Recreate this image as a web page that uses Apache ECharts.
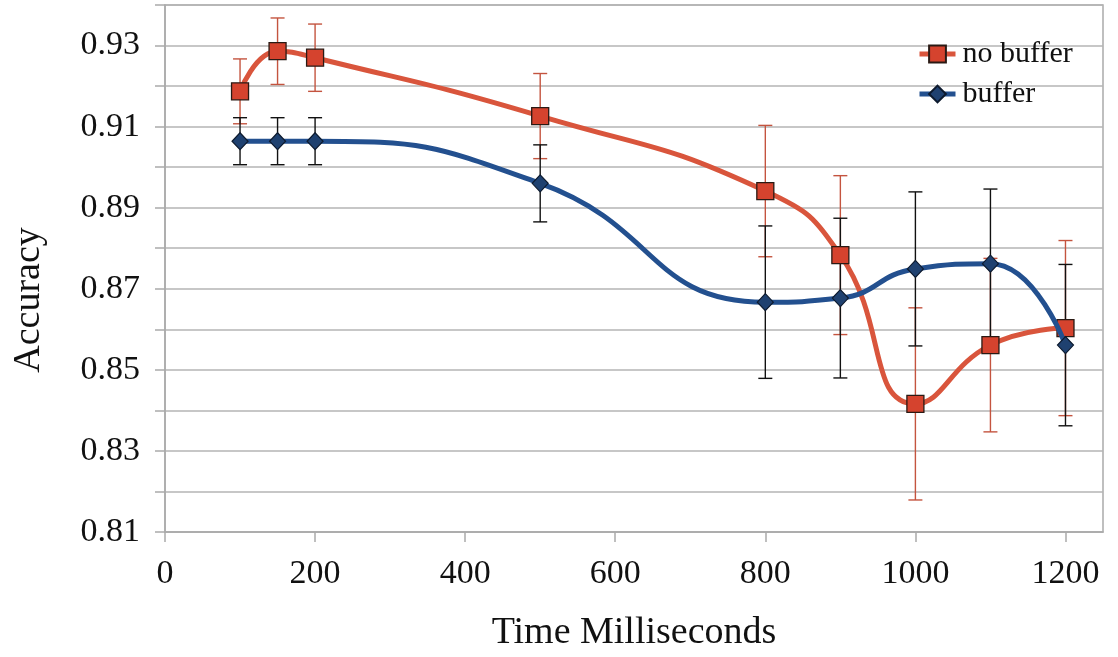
<!DOCTYPE html>
<html>
<head>
<meta charset="utf-8">
<script src="https://cdn.jsdelivr.net/npm/echarts@6/dist/echarts.min.js"></script>
<style>
html,body{margin:0;padding:0;background:#fff;}
#c{width:1118px;height:657px;}
</style>
</head>
<body>
<div id="c"></div>
<script>
// Data
var times = [100, 150, 200, 500, 800, 900, 1000, 1100, 1200];
var noBuffer = [0.9187, 0.9286, 0.9270, 0.9126, 0.8941, 0.8783, 0.8416, 0.8561, 0.8603];
var noBufferErr = [0.0080, 0.0082, 0.0083, 0.0105, 0.0162, 0.0196, 0.0237, 0.0214, 0.0216];
var buffer = [0.9064, 0.9064, 0.9064, 0.8960, 0.8667, 0.8677, 0.8749, 0.8762, 0.8561];
var bufferErr = [0.0058, 0.0058, 0.0058, 0.0095, 0.0188, 0.0197, 0.0190, 0.0184, 0.0199];
var xTicks = [0, 200, 400, 600, 800, 1000, 1200];
var yTicks = [0.81, 0.83, 0.85, 0.87, 0.89, 0.91, 0.93];

var RED = '#d5432e', RED_LINE = '#d9553c', RED_ERR = '#c4543f';
var BLUE = '#1f4170', BLUE_LINE = '#23508f', BLACK_ERR = '#111111';
var FONT = '"Liberation Serif", "DejaVu Serif", serif';

function pairs(xs, ys) { return xs.map(function (x, i) { return [x, ys[i]]; }); }
function errs(xs, ys, es) { return xs.map(function (x, i) { return [x, ys[i] - es[i], ys[i] + es[i]]; }); }

function errRender(color) {
  return function (params, api) {
    var x = api.value(0), lo = api.value(1), hi = api.value(2);
    var pLo = api.coord([x, lo]), pHi = api.coord([x, hi]);
    var w = 7;
    var st = { stroke: color, lineWidth: 1.4 };
    return {
      type: 'group',
      children: [
        { type: 'line', shape: { x1: pLo[0], y1: pLo[1], x2: pHi[0], y2: pHi[1] }, style: st },
        { type: 'line', shape: { x1: pLo[0] - w, y1: pLo[1], x2: pLo[0] + w, y2: pLo[1] }, style: st },
        { type: 'line', shape: { x1: pHi[0] - w, y1: pHi[1], x2: pHi[0] + w, y2: pHi[1] }, style: st }
      ]
    };
  };
}

var chart = echarts.init(document.getElementById('c'), null, { renderer: 'canvas' });
chart.setOption({
  backgroundColor: '#ffffff',
  animation: false,
  grid: { left: 165, right: 15, top: 5, bottom: 120, show: true, borderColor: '#aaaaaa', borderWidth: 1.5, backgroundColor: 'transparent' },
  graphic: [{
    type: 'text', x: 29, y: 300, rotation: Math.PI / 2, z: 10,
    style: { text: 'Accuracy', fontFamily: FONT, fontSize: 38, fill: '#111', align: 'center', verticalAlign: 'middle' }
  }],
  legend: {
    orient: 'vertical',
    left: 912, top: 34,
    itemWidth: 36, itemHeight: 21, itemGap: 10,
    lineStyle: { width: 5 },
    textStyle: { fontFamily: FONT, fontSize: 30, color: '#111', padding: [0, 0, 0, 2] },
    data: ['no buffer', 'buffer']
  },
  xAxis: {
    type: 'value', min: 0, max: 1250, interval: 200,
    name: 'Time Milliseconds', nameLocation: 'middle', nameGap: 82,
    nameTextStyle: { fontFamily: FONT, fontSize: 38, color: '#111' },
    axisLine: { lineStyle: { color: '#aaaaaa', width: 1.5 } },
    axisTick: { show: true, length: 10, lineStyle: { color: '#aaaaaa', width: 1.5 } },
    axisLabel: {
      fontFamily: FONT, fontSize: 34, color: '#111', margin: 25, showMaxLabel: false,
      formatter: function (v) { return xTicks.indexOf(v) >= 0 ? String(v) : ''; }
    },
    splitLine: { show: false }
  },
  yAxis: {
    type: 'value', min: 0.81, max: 0.94, interval: 0.01,
    axisLine: { show: true, lineStyle: { color: '#aaaaaa', width: 1.5 } },
    axisTick: { show: true, length: 10, lineStyle: { color: '#aaaaaa', width: 1.5 } },
    axisLabel: {
      fontFamily: FONT, fontSize: 34, color: '#111', margin: 25,
      formatter: function (v) {
        var s = v.toFixed(2);
        return yTicks.map(function (t) { return t.toFixed(2); }).indexOf(s) >= 0 ? s : '';
      }
    },
    splitLine: { show: true, lineStyle: { color: '#b5b5b5', width: 1.5 } }
  },
  series: [
    {
      name: 'no buffer err', type: 'custom', renderItem: errRender(RED_ERR),
      data: errs(times, noBuffer, noBufferErr), encode: { x: 0, y: [1, 2] }, z: 1, silent: true
    },
    {
      name: 'buffer err', type: 'custom', renderItem: errRender(BLACK_ERR),
      data: errs(times, buffer, bufferErr), encode: { x: 0, y: [1, 2] }, z: 1, silent: true
    },
    {
      name: 'no buffer', type: 'line', smooth: 0.5, data: pairs(times, noBuffer),
      symbol: 'rect', symbolSize: 17,
      lineStyle: { color: RED_LINE, width: 5 },
      itemStyle: { color: RED, borderColor: '#2a1a14', borderWidth: 1.3 },
      z: 3
    },
    {
      name: 'buffer', type: 'line', smooth: 0.5, data: pairs(times, buffer),
      symbol: 'diamond', symbolSize: [16, 17],
      lineStyle: { color: BLUE_LINE, width: 5 },
      itemStyle: { color: BLUE, borderColor: '#0d1a2e', borderWidth: 1.2 },
      z: 4
    }
  ]
});
</script>
</body>
</html>
